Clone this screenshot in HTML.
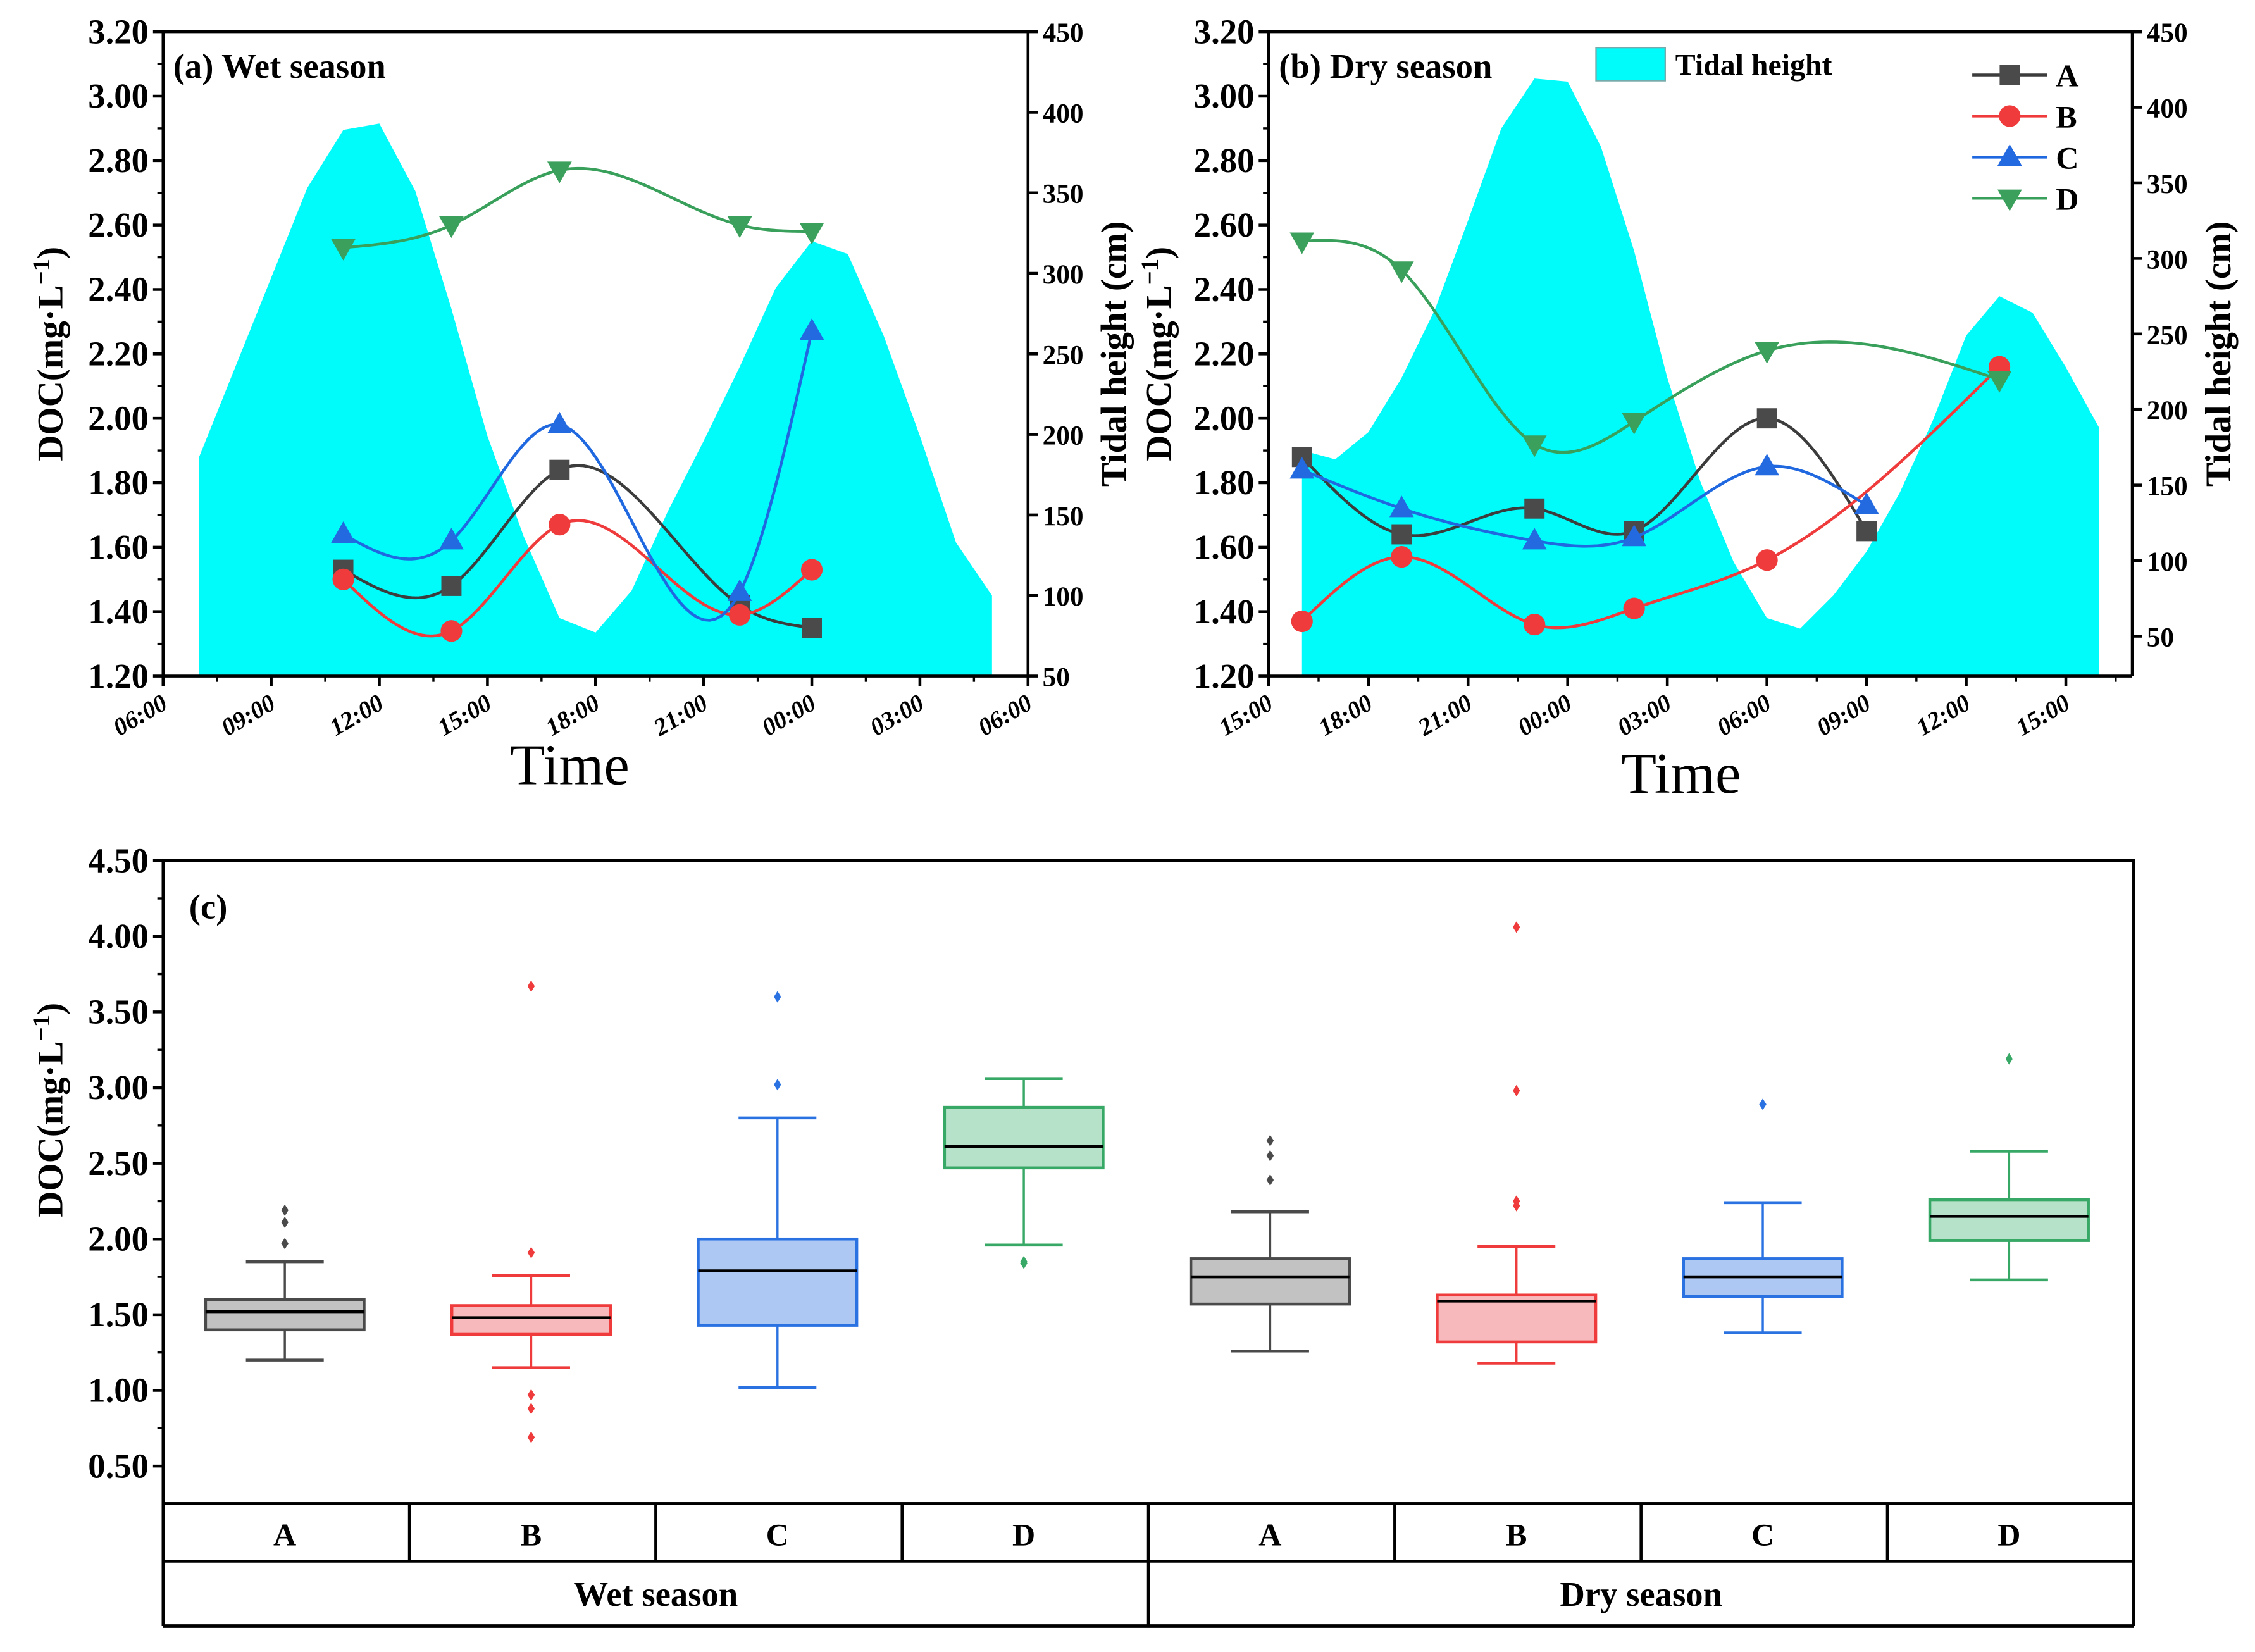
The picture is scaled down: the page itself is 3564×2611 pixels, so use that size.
<!DOCTYPE html>
<html><head><meta charset="utf-8"><style>
html,body{margin:0;padding:0;background:#fff}
svg{display:block}
text{font-family:"Liberation Serif",serif;font-weight:bold;fill:#000}
text.normal{font-weight:normal}
</style></head><body>
<svg id="fig" width="3564" height="2611" viewBox="0 0 1564 1146" xmlns="http://www.w3.org/2000/svg"></svg>
<script>
// ---------- Data ----------
const wetTideHours=[1,4,5,6,7,8,9,10,11,12,13,14,15,16,17,18,19,20,21,22,23];
const wetTideCm=[186,353,389,393,351,278,199,137,86,77,103,152,196,242,291,320,312,261,199,133,100];
const wetHours=[5,8,11,16,18];
const wetA=[1.53,1.48,1.84,1.42,1.35];
const wetB=[1.50,1.34,1.67,1.39,1.53];
const wetC=[1.64,1.62,1.98,1.46,2.27];
const wetD=[2.53,2.60,2.77,2.60,2.58];
const wetTickLabels=["06:00","09:00","12:00","15:00","18:00","21:00","00:00","03:00","06:00"];

const dryTideHours=[1,2,3,4,5,6,7,8,9,10,11,12,13,14,15,16,17,18,19,20,21,22,23,24,25];
const dryTideCm=[173,167,185,221,266,325,386,419,417,374,305,221,152,99,62,55,77,106,145,193,249,275,264,228,188];
const dryHoursA=[1,4,8,11,15,18];
const dryA=[1.88,1.64,1.72,1.65,2.00,1.65];
const dryHoursB=[1,4,8,11,15,22];
const dryB=[1.37,1.57,1.36,1.41,1.56,2.16];
const dryHoursC=[1,4,8,11,15,18];
const dryC=[1.84,1.72,1.62,1.63,1.85,1.73];
const dryHoursD=[1,4,8,11,15,22];
const dryD=[2.55,2.46,1.92,1.99,2.21,2.12];
const dryTickLabels=["15:00","18:00","21:00","00:00","03:00","06:00","09:00","12:00","15:00"];

const docTicks=[1.20,1.40,1.60,1.80,2.00,2.20,2.40,2.60,2.80,3.00,3.20];
const tideTicks=[50,100,150,200,250,300,350,400,450];

const boxGroups=["A","B","C","D","A","B","C","D"];
const boxLow=[1.20,1.15,1.02,1.96,1.26,1.18,1.38,1.73];
const boxQ1=[1.40,1.37,1.43,2.47,1.57,1.32,1.62,1.99];
const boxMed=[1.52,1.48,1.79,2.61,1.75,1.59,1.75,2.15];
const boxQ3=[1.60,1.56,2.00,2.87,1.87,1.63,1.87,2.26];
const boxHigh=[1.85,1.76,2.80,3.06,2.18,1.95,2.24,2.58];
const boxOutliers=[[1.97,2.11,2.19],[1.91,0.97,0.88,0.69,3.67],[3.02,3.60],[1.84,1.85],[2.39,2.55,2.65],[2.22,2.25,2.98,4.06],[2.89],[3.19]];
const boxTicks=[0.50,1.00,1.50,2.00,2.50,3.00,3.50,4.00,4.50];

// ---------- helpers ----------
const NS="http://www.w3.org/2000/svg";
const svg=document.getElementById('fig');
function el(tag,attrs,parent,txt){const e=document.createElementNS(NS,tag);for(const k in attrs)e.setAttribute(k,attrs[k]);if(txt!==undefined)e.textContent=txt;(parent||svg).appendChild(e);return e;}
function lin(d0,d1,r0,r1){return v=>r0+(v-d0)/(d1-d0)*(r1-r0);}
// natural cubic spline in data space, sampled
function splinePath(xd,yd,xs,ys){
  const n=xd.length;const h=[],al=[],l=[1],mu=[0],z=[0],c=new Array(n).fill(0);
  for(let i=0;i<n-1;i++)h.push(xd[i+1]-xd[i]);
  for(let i=1;i<n-1;i++)al[i]=3/h[i]*(yd[i+1]-yd[i])-3/h[i-1]*(yd[i]-yd[i-1]);
  for(let i=1;i<n-1;i++){l[i]=2*(xd[i+1]-xd[i-1])-h[i-1]*mu[i-1];mu[i]=h[i]/l[i];z[i]=(al[i]-h[i-1]*z[i-1])/l[i];}
  const b=[],d=[];
  for(let j=n-2;j>=0;j--){c[j]=(j===0?0:z[j])-(j===0?0:mu[j])*c[j+1];if(j===0)c[0]=0;b[j]=(yd[j+1]-yd[j])/h[j]-h[j]*(c[j+1]+2*c[j])/3;d[j]=(c[j+1]-c[j])/(3*h[j]);}
  let p=`M${xs(xd[0])},${ys(yd[0])}`;
  for(let j=0;j<n-1;j++)for(let k=1;k<=30;k++){const t=h[j]*k/30;const y=yd[j]+b[j]*t+c[j]*t*t+d[j]*t*t*t;p+=` L${xs(xd[j]+t).toFixed(2)},${ys(y).toFixed(2)}`;}
  return p;
}
const COL={A:'#3c3c3c',B:'#ef3b3b',C:'#1f68e0',D:'#38a05a'};
function marker(g,type,x,y){
  if(type==='A')return el('rect',{x:x-7,y:y-7,width:14,height:14,fill:'#4a4a4a'},g);
  if(type==='B')return el('circle',{cx:x,cy:y,r:7.5,fill:'#ef3b3b'},g);
  if(type==='C')return el('polygon',{points:`${x},${y-9} ${x-8.5},${y+6} ${x+8.5},${y+6}`,fill:'#2369e0'},g);
  return el('polygon',{points:`${x},${y+9} ${x-8.5},${y-6} ${x+8.5},${y-6}`,fill:'#3aa05c'},g);
}

function linePanel(cfg){
  const g=el('g',{});
  
  
  const {L,R,T,B}=cfg;
  const xs=lin(0,cfg.hmax,L,R), ys=lin(1.2,3.2,B,T), yt=lin(cfg.tmin,450,B,T);
  const tp=[[xs(cfg.tH[0]),B]];cfg.tH.forEach((h,i)=>tp.push([xs(h),yt(cfg.tC[i])]));tp.push([xs(cfg.tH[cfg.tH.length-1]),B]);
  const area=el('polygon',{points:tp.map(p=>p.join(',')).join(' '),fill:'#00fbfb'},g);
  
  
  cfg.series.forEach(s=>{
    const sg=el('g',{},g);
    
    
    el('path',{d:splinePath(s.h,s.v,xs,ys),fill:'none',stroke:COL[s.k],'stroke-width':2},sg);
    s.h.forEach((h,i)=>marker(sg,s.k,xs(h),ys(s.v[i])));
  });
  el('line',{x1:L,y1:T,x2:R,y2:T,stroke:'#000','stroke-width':2},g);
  el('line',{x1:L,y1:B,x2:R,y2:B,stroke:'#000','stroke-width':2},g);
  el('line',{x1:L,y1:T,x2:L,y2:B,stroke:'#000','stroke-width':2},g);
  el('line',{x1:R,y1:T,x2:R,y2:B,stroke:'#000','stroke-width':2},g);
  docTicks.forEach(v=>{const y=ys(v);el('line',{x1:L-7,y1:y,x2:L,y2:y,stroke:'#000','stroke-width':2},g);
    const t=el('text',{x:L-10,y:y+8,'text-anchor':'end','font-size':24},g,v.toFixed(2));
    
    if(v<3.2){const ym=ys(v+0.1);el('line',{x1:L-4,y1:ym,x2:L,y2:ym,stroke:'#000','stroke-width':1.5},g);}});
  tideTicks.forEach(v=>{if(v<cfg.tmin)return;const y=yt(v);el('line',{x1:R,y1:y,x2:R+7,y2:y,stroke:'#000','stroke-width':2},g);
    const t=el('text',{x:R+10,y:y+7,'font-size':19},g,v);
    });
  cfg.labels.forEach((lab,i)=>{const x=xs(i*3);el('line',{x1:x,y1:B,x2:x,y2:B+7,stroke:'#000','stroke-width':2},g);
    const t=el('text',{x:x+4,y:B+22,'text-anchor':'end','font-size':17,'font-style':'italic',transform:`rotate(-30 ${x+4} ${B+22})`},g,lab);
    
    const xm=xs(i*3+1.5);if(xm<R)el('line',{x1:xm,y1:B,x2:xm,y2:B+4,stroke:'#000','stroke-width':1.5},g);});
  const ty=el('text',{x:0,y:0,'font-size':25,transform:`translate(${cfg.ytX},${(T+B)/2}) rotate(-90)`,'text-anchor':'middle'},g);
  
  ty.innerHTML='DOC(mg·L<tspan dy="-9" font-size="17">−1</tspan><tspan dy="9">)</tspan>';
  const tr=el('text',{x:0,y:0,'font-size':25,transform:`translate(${R+68},${(T+B)/2}) rotate(-90)`,'text-anchor':'middle'},g,'Tidal height (cm)');
  
  const tx=el('text',{x:cfg.timeX,y:cfg.timeY,'font-size':40,'text-anchor':'middle','class':'normal'},g,'Time');
  
  const pl=el('text',{x:L+7,y:T+32,'font-size':24},g,cfg.title);
  
  return g;
}

linePanel({name:'wet-season-chart',L:113,R:713,T:22,B:469,hmax:24,tmin:50,tH:wetTideHours,tC:wetTideCm,
  series:[{k:'A',h:wetHours,v:wetA},{k:'B',h:wetHours,v:wetB},{k:'C',h:wetHours,v:wetC},{k:'D',h:wetHours,v:wetD}],
  labels:wetTickLabels,ytX:43,timeX:395,timeY:544,title:'(a) Wet season'});
linePanel({name:'dry-season-chart',L:880,R:1479,T:22,B:469,hmax:26,tmin:23.6,tH:dryTideHours,tC:dryTideCm,
  series:[{k:'A',h:dryHoursA,v:dryA},{k:'B',h:dryHoursB,v:dryB},{k:'C',h:dryHoursC,v:dryC},{k:'D',h:dryHoursD,v:dryD}],
  labels:dryTickLabels,ytX:812,timeX:1166,timeY:550,title:'(b) Dry season'});

const lg=el('g',{});


el('rect',{x:1107,y:33,width:48,height:23,fill:'#00fbfb',stroke:'#7aa','stroke-width':1},lg);
el('text',{x:1162,y:52,'font-size':21},lg,'Tidal height');
['A','B','C','D'].forEach((k,i)=>{const y=52+i*28.5;const eg=el('g',{},lg);
  
  
  el('line',{x1:1368,y1:y,x2:1420,y2:y,stroke:COL[k],'stroke-width':2},eg);marker(eg,k,1394,y);
  el('text',{x:1426,y:y+8,'font-size':22},eg,k);});

(function(){
  const g=el('g',{});
  
  
  const L=113,R=1480,T=597,B=1043;
  const ys=lin(0.5,4.5,1017,597);
  const cw=(R-L)/8;
  const fills={A:'#c2c2c2',B:'#f8b9bd',C:'#adc9f3',D:'#b5e2c8'};
  const strokes={A:'#4a4a4a',B:'#ef3b3b',C:'#2a72e2',D:'#38a866'};
  boxGroups.forEach((k,i)=>{
    const cx=L+cw*(i+0.5)-1;const bg=el('g',{},g);
    
    
    const s=strokes[k];
    el('line',{x1:cx,y1:ys(boxLow[i]),x2:cx,y2:ys(boxQ1[i]),stroke:s,'stroke-width':1.5},bg);
    el('line',{x1:cx,y1:ys(boxQ3[i]),x2:cx,y2:ys(boxHigh[i]),stroke:s,'stroke-width':1.5},bg);
    el('line',{x1:cx-27,y1:ys(boxLow[i]),x2:cx+27,y2:ys(boxLow[i]),stroke:s,'stroke-width':2},bg);
    el('line',{x1:cx-27,y1:ys(boxHigh[i]),x2:cx+27,y2:ys(boxHigh[i]),stroke:s,'stroke-width':2},bg);
    el('rect',{x:cx-55,y:ys(boxQ3[i]),width:110,height:ys(boxQ1[i])-ys(boxQ3[i]),fill:fills[k],stroke:s,'stroke-width':2},bg);
    el('line',{x1:cx-55,y1:ys(boxMed[i]),x2:cx+55,y2:ys(boxMed[i]),stroke:'#000','stroke-width':2},bg);
    boxOutliers[i].forEach(v=>el('polygon',{points:`${cx},${ys(v)-4} ${cx+2.5},${ys(v)} ${cx},${ys(v)+4} ${cx-2.5},${ys(v)}`,fill:s},bg));
  });
  el('rect',{x:L,y:T,width:R-L,height:B-T,fill:'none',stroke:'#000','stroke-width':2},g);
  boxTicks.forEach(v=>{const y=ys(v);el('line',{x1:L-7,y1:y,x2:L,y2:y,stroke:'#000','stroke-width':2},g);
    const t=el('text',{x:L-10,y:y+8,'text-anchor':'end','font-size':24},g,v.toFixed(2));
    
    if(v<4.5){const ym=ys(v+0.25);el('line',{x1:L-4,y1:ym,x2:L,y2:ym,stroke:'#000','stroke-width':1.5},g);}});
  const ty=el('text',{x:0,y:0,'font-size':25,transform:`translate(43,770) rotate(-90)`,'text-anchor':'middle'},g);
  
  ty.innerHTML='DOC(mg·L<tspan dy="-9" font-size="17">−1</tspan><tspan dy="9">)</tspan>';
  const pl=el('text',{x:131,y:637,'font-size':24},g,'(c)');
  
  el('line',{x1:L,y1:1083,x2:R,y2:1083,stroke:'#000','stroke-width':2},g);
  el('line',{x1:L,y1:1128,x2:R,y2:1128,stroke:'#000','stroke-width':2.5},g);
  el('line',{x1:L,y1:B,x2:L,y2:1128,stroke:'#000','stroke-width':2},g);
  el('line',{x1:R,y1:B,x2:R,y2:1128,stroke:'#000','stroke-width':2},g);
  el('line',{x1:L+cw*4,y1:B,x2:L+cw*4,y2:1128,stroke:'#000','stroke-width':2},g);
  boxGroups.forEach((k,i)=>{if(i>0&&i!==4)el('line',{x1:L+cw*i,y1:B,x2:L+cw*i,y2:1083,stroke:'#000','stroke-width':2},g);
    const t=el('text',{x:L+cw*(i+0.5)-1,y:1072,'text-anchor':'middle','font-size':22},g,k);
    });
  const w=el('text',{x:L+cw*2,y:1114,'text-anchor':'middle','font-size':24},g,'Wet season');
  
  const d=el('text',{x:L+cw*6,y:1114,'text-anchor':'middle','font-size':24},g,'Dry season');
  
})();
</script>
</body></html>
